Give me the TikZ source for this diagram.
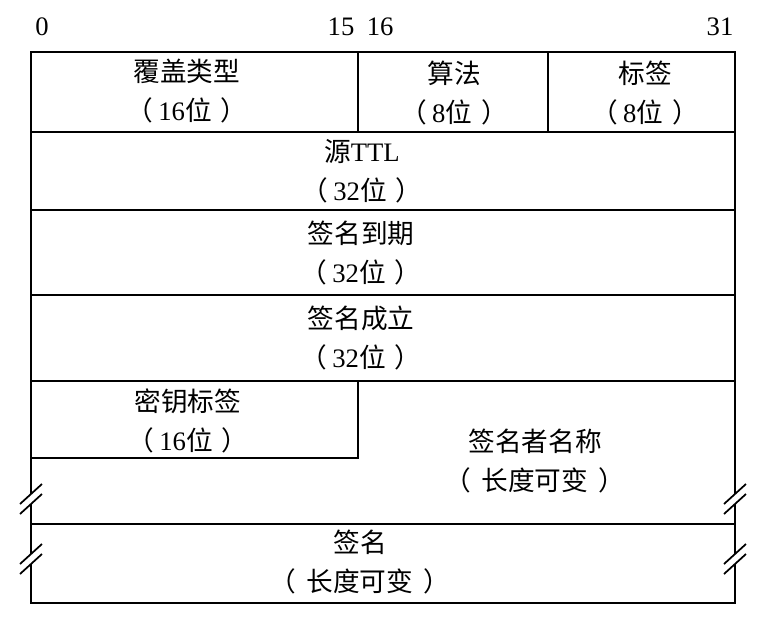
\documentclass[tikz,border=0pt]{standalone}
\usepackage{fontspec}
\setmainfont{Liberation Serif}
\newfontfamily\cjk{Noto Sans CJK SC}
\usetikzlibrary{positioning}
\newcommand{\zh}[1]{{\cjk #1}}
\newcommand{\bits}[1]{\zh{（}\hspace{0.2em}#1\zh{位}\hspace{0.35em}\zh{）}}
\newcommand{\varlen}{\zh{（}\hspace{0.4em}\zh{长度可变}\hspace{0.4em}\zh{）}}

\begin{document}
\begin{tikzpicture}[x=0.75pt, y=-0.75pt,
field/.style={align=center, font=\fontsize{20}{29}\selectfont, inner sep=0pt},
bitnum/.style={font=\fontsize{20}{24}\selectfont, inner sep=0pt},
boxline/.style={line width=1.5pt, line join=miter},
brk/.style={line width=1.3pt}
]
\useasboundingbox (0,0) rectangle (776,622);
%Nodes
\node[bitnum]    (b0)      at (42,27)                    {0};
\node[bitnum]    (b15)     at (341,27)                   {15};
\node[bitnum]    (b16)     [right=9pt of b15]            {16};
\node[bitnum]    (b31)     at (720,27)                   {31};
\node[field]     (covtype) at (187,91)   {\zh{覆盖类型}\\\bits{16}};
\node[field]     (algo)    at (454,93)   {\zh{算法}\\\bits{8}};
\node[field]     (labels)  at (645,93)   {\zh{标签}\\\bits{8}};
\node[field]     (origttl) at (362,171)  {\zh{源}TTL\\\bits{32}};
\node[field]     (sigexp)  at (361,253)  {\zh{签名到期}\\\bits{32}};
\node[field]     (siginc)  at (361,338)  {\zh{签名成立}\\\bits{32}};
\node[field]     (keytag)  at (188,421)  {\zh{密钥标签}\\\bits{16}};
\node[field]     (signer)  at (535,461)  {\zh{签名者名称}\\\varlen};
\node[field]     (sig)     at (360,562)  {\zh{签名}\\\varlen};
%Lines
\draw[boxline] (31,494) -- (31,52) -- (735,52) -- (735,494);
\draw[boxline] (31,504) -- (31,554);
\draw[boxline] (735,504) -- (735,554);
\draw[boxline] (31,564) -- (31,603) -- (735,603) -- (735,564);
\draw[boxline] (357.5,52) -- (357.5,131.5);
\draw[boxline] (547.5,52) -- (547.5,131.5);
\foreach \ry in {131.5,209.5,295,381,523.5}
  \draw[boxline] (31,\ry) -- (735,\ry);
\draw[boxline] (31,458) -- (357.5,458) -- (357.5,381);
%Breaks
\foreach \bx in {31,735}
  \foreach \by in {499,559} {
    \draw[brk] (\bx-11,\by+15) -- (\bx+11,\by-5);
    \draw[brk] (\bx-11,\by+5) -- (\bx+11,\by-15);
  }
\end{tikzpicture}
\end{document}
